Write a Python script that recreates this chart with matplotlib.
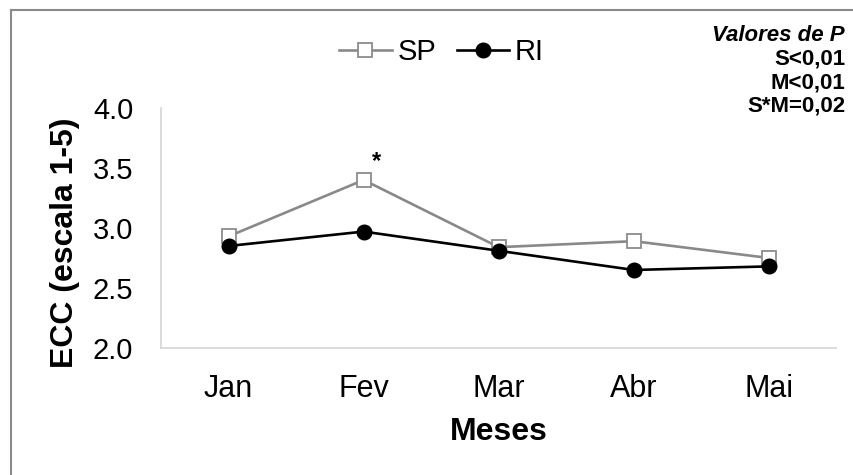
import matplotlib
matplotlib.use("Agg")
import matplotlib.pyplot as plt
from matplotlib.lines import Line2D

plt.rcParams['font.family'] = ['Liberation Sans', 'DejaVu Sans']

# ECC por mês
meses = ["Jan", "Fev", "Mar", "Abr", "Mai"]
sp = [2.93, 3.40, 2.84, 2.89, 2.75]
ri = [2.85, 2.97, 2.81, 2.65, 2.68]
yticks = [2.0, 2.5, 3.0, 3.5, 4.0]
p_valores = ["S<0,01", "M<0,01", "S*M=0,02"]

fig = plt.figure(figsize=(8.54, 4.75), dpi=100)
ax = fig.add_axes([0.1885, 0.2674, 0.791, 0.5053])

x = list(range(len(meses)))
ax.plot(x, sp, color="#898989", linewidth=1.9, marker="s", markersize=9.5,
        markerfacecolor="white", markeredgecolor="#8c8c8c", markeredgewidth=1.3,
        label="SP", zorder=2)
ax.plot(x, ri, color="black", linewidth=1.9, marker="o", markersize=10.5,
        markerfacecolor="black", markeredgecolor="black", label="RI", zorder=3)

# diferença significativa em fevereiro
ax.annotate("*", xy=(1, sp[1]), xytext=(9, 13), textcoords="offset points",
            ha="center", va="center", fontsize=17, fontweight="bold")

ax.set_xlim(-0.5, len(meses) - 0.5)
ax.set_ylim(2.0, 4.0)
ax.set_xticks(x)
ax.set_xticklabels(meses)
ax.set_yticks(yticks)
ax.set_yticklabels([f"{v:.1f}" for v in yticks])
ax.tick_params(axis="y", length=0, pad=20, labelsize=21)
ax.tick_params(axis="x", length=0, pad=19, labelsize=22)

for side in ["top", "right"]:
    ax.spines[side].set_visible(False)
for side in ["left", "bottom"]:
    ax.spines[side].set_color("#d9d9d9")
    ax.spines[side].set_linewidth(1.3)

ax.set_xlabel("Meses", fontsize=23, fontweight="bold")
ax.xaxis.label.set_va("center")
ax.xaxis.set_label_coords(0.5, -0.35)
ax.set_ylabel("ECC (escala 1-5)", fontsize=23, fontweight="bold")
ax.yaxis.label.set_va("center")
ax.yaxis.set_label_coords(-0.142, 0.44)

fig.legend(loc="center", bbox_to_anchor=(0.517, 0.89), ncol=2, frameon=False,
           fontsize=21, handlelength=1.8, handletextpad=0.2, columnspacing=0.7)

# valores de P no canto superior direito
fig.text(0.9895, 1 - 41 / 475, "Valores de P", ha="right", va="baseline",
         fontsize=16, fontweight="bold", style="italic")
for i, txt in enumerate(p_valores):
    fig.text(0.9895, 1 - (65 + 23.3 * i) / 475, txt, ha="right", va="baseline",
             fontsize=16, fontweight="bold")

# moldura externa
borda = dict(color="#8a8a8a", linewidth=1.5, transform=fig.transFigure)
fig.add_artist(Line2D([11 / 854, 11 / 854], [0, 1 - 10 / 475], **borda))
fig.add_artist(Line2D([11 / 854, 1], [1 - 10 / 475, 1 - 10 / 475], **borda))

fig.savefig("out.png", dpi=100)
